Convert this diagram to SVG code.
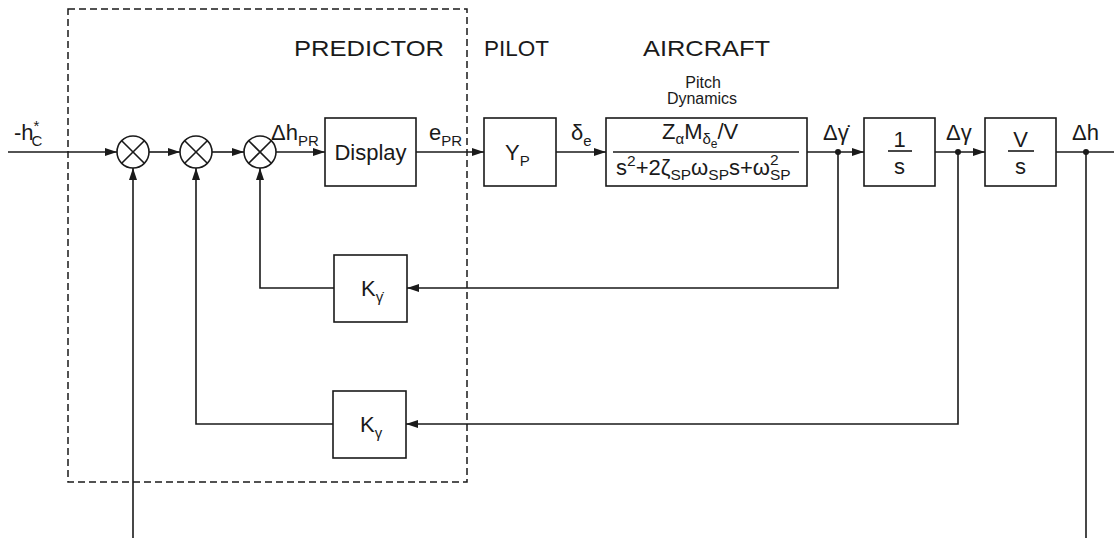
<svg xmlns="http://www.w3.org/2000/svg" width="1114" height="538" viewBox="0 0 1114 538">
<defs>
<style>
.box{fill:#fff;stroke:#1a1a1a;stroke-width:1.6}
.ln{fill:none;stroke:#1a1a1a;stroke-width:1.6}
.dash{fill:none;stroke:#1a1a1a;stroke-width:1.5;stroke-dasharray:7 4}
text{font-family:"Liberation Sans",Arial,sans-serif;fill:#1a1a1a}
.hd{font-size:22px}
.lb{font-size:22px}
.sm{font-size:16px}
</style>
<marker id="ar" markerUnits="userSpaceOnUse" markerWidth="13" markerHeight="9" refX="12" refY="4" orient="auto">
<path d="M0,0 L12,4 L0,8 z" fill="#1a1a1a"/>
</marker>
</defs>
<rect width="1114" height="538" fill="#fff"/>
<rect class="dash" x="68" y="9" width="399" height="473"/>
<text class="hd" x="294" y="56" textLength="150" lengthAdjust="spacingAndGlyphs">PREDICTOR</text>
<text class="hd" x="484" y="56" textLength="65" lengthAdjust="spacingAndGlyphs">PILOT</text>
<text class="hd" x="643" y="56" textLength="127" lengthAdjust="spacingAndGlyphs">AIRCRAFT</text>
<text class="sm" x="703" y="88" text-anchor="middle">Pitch</text>
<text class="sm" x="702" y="104" text-anchor="middle">Dynamics</text>
<text class="lb" x="14" y="140">-h<tspan font-size="15" dy="-9">*</tspan><tspan font-size="15" dx="-8" dy="15">C</tspan></text>
<g id="sum1"><circle class="box" cx="133" cy="152" r="16"/><path class="ln" d="M121.7,140.7 L144.3,163.3 M144.3,140.7 L121.7,163.3"/></g>
<g id="sum2"><circle class="box" cx="196" cy="152" r="16"/><path class="ln" d="M184.7,140.7 L207.3,163.3 M207.3,140.7 L184.7,163.3"/></g>
<g id="sum3"><circle class="box" cx="260" cy="152" r="16"/><path class="ln" d="M248.7,140.7 L271.3,163.3 M271.3,140.7 L248.7,163.3"/></g>
<text class="lb" x="271" y="140">Δh<tspan font-size="15" dy="6">PR</tspan></text>
<g id="display"><rect class="box" x="325" y="118" width="91" height="68"/><text class="lb" x="370.5" y="160" text-anchor="middle" font-size="23">Display</text></g>
<text class="lb" x="429" y="140">e<tspan font-size="15" dy="6">PR</tspan></text>
<g id="yp"><rect class="box" x="484" y="118" width="72" height="68"/><text class="lb" x="505" y="160" font-size="23">Y<tspan font-size="15" dy="6">P</tspan></text></g>
<text class="lb" x="571" y="140">δ<tspan font-size="15" dy="6">e</tspan></text>
<g id="tf"><rect class="box" x="606" y="118" width="201" height="68"/>
<text class="lb" x="662" y="139">Z<tspan font-size="15" dy="5">α</tspan><tspan dy="-5">M</tspan><tspan font-size="15" dy="5">δ</tspan><tspan font-size="12" dy="4">e</tspan><tspan dy="-9">/V</tspan></text>
<path class="ln" d="M613,152 H799"/>
<text class="lb" x="616" y="175" font-size="23">s<tspan font-size="15.5" dy="-9">2</tspan><tspan dy="9">+2ζ</tspan><tspan font-size="15.5" dy="5">SP</tspan><tspan dy="-5">ω</tspan><tspan font-size="15.5" dy="5">SP</tspan><tspan dy="-5">s+ω</tspan><tspan font-size="15.5" dy="-10">2</tspan><tspan font-size="15.5" dx="-8.6" dy="15">SP</tspan></text>
</g>
<text class="lb" x="823" y="140">Δγ̇</text>
<g id="integ"><rect class="box" x="864" y="118" width="71" height="68"/><text class="lb" x="899.5" y="147" text-anchor="middle">1</text><path class="ln" d="M888,151 H912"/><text class="lb" x="899.5" y="174" text-anchor="middle">s</text></g>
<text class="lb" x="946" y="140">Δγ</text>
<g id="vs"><rect class="box" x="985" y="118" width="71" height="68"/><text class="lb" x="1020.5" y="147" text-anchor="middle">V</text><path class="ln" d="M1008,151 H1034"/><text class="lb" x="1020.5" y="174" text-anchor="middle">s</text></g>
<text class="lb" x="1072" y="140">Δh</text>
<g id="kgd"><rect class="box" x="334" y="255" width="73" height="67"/><text class="lb" x="361" y="296">K<tspan font-size="15" dy="6">γ̇</tspan></text></g>
<g id="kg"><rect class="box" x="333" y="391" width="73" height="67"/><text class="lb" x="360" y="432">K<tspan font-size="15" dy="6">γ</tspan></text></g>
<g id="connectors">
<path class="ln" d="M8,152 H117" marker-end="url(#ar)"/>
<path class="ln" d="M149,152 H180" marker-end="url(#ar)"/>
<path class="ln" d="M212,152 H244" marker-end="url(#ar)"/>
<path class="ln" d="M276,152 H325" marker-end="url(#ar)"/>
<path class="ln" d="M416,152 H484" marker-end="url(#ar)"/>
<path class="ln" d="M556,152 H606" marker-end="url(#ar)"/>
<path class="ln" d="M807,152 H864" marker-end="url(#ar)"/>
<path class="ln" d="M935,152 H985" marker-end="url(#ar)"/>
<path class="ln" d="M1056,152 H1114"/>
<path class="ln" d="M838,152 V288 H407" marker-end="url(#ar)"/>
<path class="ln" d="M334,288 H260 V168" marker-end="url(#ar)"/>
<path class="ln" d="M958,152 V424 H406" marker-end="url(#ar)"/>
<path class="ln" d="M333,424 H196 V168" marker-end="url(#ar)"/>
<path class="ln" d="M1086,152 V538"/>
<path class="ln" d="M133,538 V168" marker-end="url(#ar)"/>
<circle cx="838" cy="152" r="3" fill="#1a1a1a"/>
<circle cx="958" cy="152" r="3" fill="#1a1a1a"/>
<circle cx="1086" cy="152" r="3" fill="#1a1a1a"/>
</g>
</svg>
